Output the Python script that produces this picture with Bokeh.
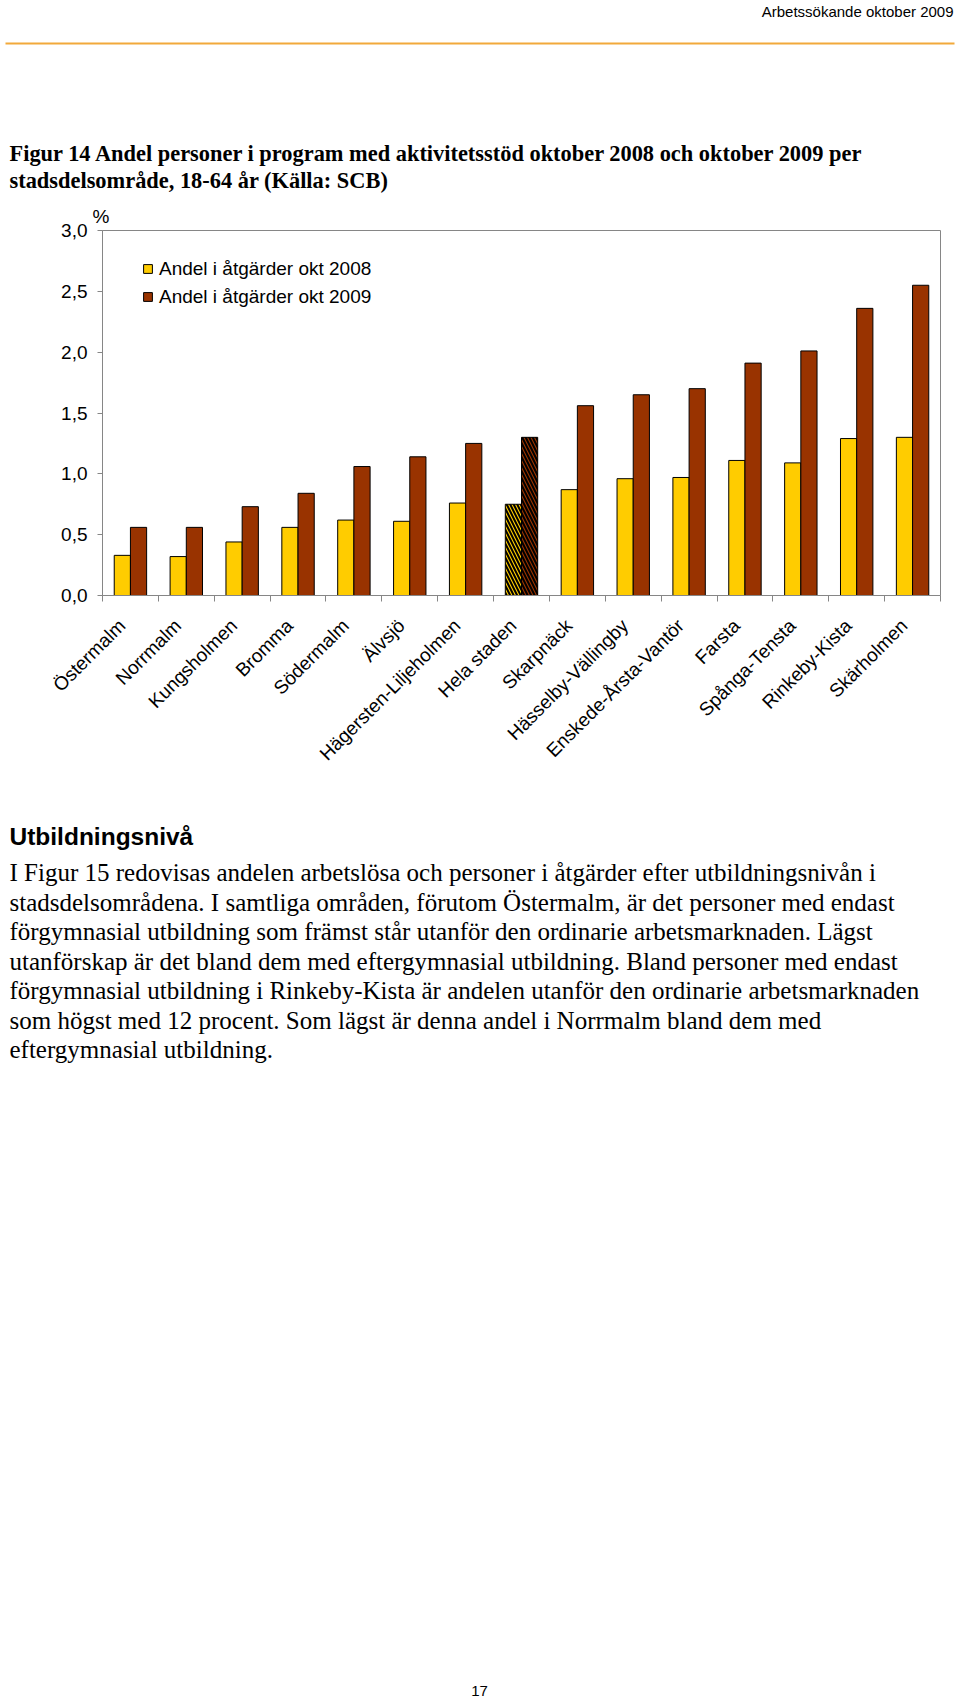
import math
from bokeh.plotting import figure
from bokeh.layouts import column
from bokeh.models import (ColumnDataSource, Legend, LegendItem, FixedTicker,
                          BoxAnnotation, Range1d, Title)
from bokeh.transform import dodge
from bokeh.core.properties import value
from bokeh.embed import file_html
from bokeh.resources import INLINE

# ---------------- data ----------------
categories = ["Östermalm", "Norrmalm", "Kungsholmen", "Bromma", "Södermalm", "Älvsjö",
              "Hägersten-Liljeholmen", "Hela staden", "Skarpnäck", "Hässelby-Vällingby",
              "Enskede-Årsta-Vantör", "Farsta", "Spånga-Tensta", "Rinkeby-Kista", "Skärholmen"]
andel_2008 = [0.33, 0.32, 0.44, 0.56, 0.62, 0.61, 0.76, 0.75, 0.87, 0.96, 0.97, 1.11, 1.09, 1.29, 1.30]
andel_2009 = [0.56, 0.56, 0.73, 0.84, 1.06, 1.14, 1.25, 1.30, 1.56, 1.65, 1.70, 1.91, 2.01, 2.36, 2.55]
series_names = ["Andel i åtgärder okt 2008", "Andel i åtgärder okt 2009"]
highlight = "Hela staden"
y_ticks = [0.0, 0.5, 1.0, 1.5, 2.0, 2.5, 3.0]
y_tick_labels = ["0,0", "0,5", "1,0", "1,5", "2,0", "2,5", "3,0"]
y_unit = "%"

header_text = "Arbetssökande oktober 2009"
title_lines = ["Figur 14 Andel personer i program med aktivitetsstöd oktober 2008 och oktober 2009 per",
               "stadsdelsområde, 18-64 år (Källa: SCB)"]
heading_text = "Utbildningsnivå"
body_lines = [
    "I Figur 15 redovisas andelen arbetslösa och personer i åtgärder efter utbildningsnivån i",
    "stadsdelsområdena. I samtliga områden, förutom Östermalm, är det personer med endast",
    "förgymnasial utbildning som främst står utanför den ordinarie arbetsmarknaden. Lägst",
    "utanförskap är det bland dem med eftergymnasial utbildning. Bland personer med endast",
    "förgymnasial utbildning i Rinkeby-Kista är andelen utanför den ordinarie arbetsmarknaden",
    "som högst med 12 procent. Som lägst är denna andel i Norrmalm bland dem med",
    "eftergymnasial utbildning.",
]
page_number = "17"

# ---------------- layout (page pixels) ----------------
W = 960
TOP_H = 196                 # header/title strip: page y 0..196
CHART_TOP, CHART_BOTTOM = 196, 800
FRAME_L, FRAME_R, FRAME_T, FRAME_B = 102, 940, 230, 595
BOTTOM_H = 898              # text strip: page y 800..1698
YELLOW, BROWN = "#FFCC00", "#993300"
GRAY = "#868686"
SANS, SERIF = "Liberation Sans", "Liberation Serif"
CHART_FONT = "19px"


def text_strip(height):
    f = figure(width=W, height=height, x_range=Range1d(0, W), y_range=Range1d(height, 0),
               output_backend="svg", toolbar_location=None, title=None,
               x_axis_type=None, y_axis_type=None, min_border=0, frame_align=False)
    f.outline_line_color = None
    f.grid.visible = False
    f.background_fill_color = "white"
    f.border_fill_color = "white"
    return f


def put(f, texts, xs, ys, size, font, style="normal", align="left", baseline="middle"):
    f.text(x=xs, y=ys, text=texts, text_font=value(font), text_font_size=value(size),
           text_font_style=style, text_align=align, text_baseline=baseline,
           text_color="black")


# ---- top strip ----
top = text_strip(TOP_H)
put(top, [header_text], [953], [11], "15px", SANS, align="right")
top.add_layout(BoxAnnotation(left=5, right=954, top=42, bottom=44,
                             fill_color="#F2A93B", fill_alpha=1, line_alpha=0))
put(top, title_lines, [9] * len(title_lines),
    [153 + 27.2 * i for i in range(len(title_lines))], "22.4px", SERIF, style="bold")

# ---- chart ----
n = len(categories)
ch = CHART_BOTTOM - CHART_TOP
p = figure(width=W, height=ch, x_range=Range1d(0, n), y_range=Range1d(0, 3),
           output_backend="svg", toolbar_location=None, title=None, frame_align=False,
           min_border_left=FRAME_L, min_border_right=W - FRAME_R,
           min_border_top=FRAME_T - CHART_TOP, min_border_bottom=CHART_BOTTOM - FRAME_B)
p.title = Title(text=y_unit, align="left", offset=-10, standoff=7,
                text_font=SANS, text_font_size=CHART_FONT, text_font_style="normal",
                text_color="black")
p.xgrid.visible = False
p.ygrid.visible = False
p.outline_line_color = GRAY
p.background_fill_color = "white"
p.border_fill_color = "white"

src = ColumnDataSource(dict(
    x=[i + 0.5 for i in range(n)],
    v08=andel_2008, v09=andel_2009,
    hatch=["\\" if c == highlight else " " for c in categories],
))
bw = 0.29
r08 = p.vbar(x=dodge("x", -bw / 2, range=p.x_range), top="v08", width=bw, bottom=0, source=src,
             fill_color=YELLOW, line_color="black", line_width=1,
             hatch_pattern="hatch", hatch_color="black", hatch_scale=7, hatch_weight=2)
r09 = p.vbar(x=dodge("x", bw / 2, range=p.x_range), top="v09", width=bw, bottom=0, source=src,
             fill_color=BROWN, line_color="black", line_width=1,
             hatch_pattern="hatch", hatch_color="black", hatch_scale=7, hatch_weight=2)

# category labels hang from an invisible tick slightly left of each centre (Excel-like anchoring)
label_shift = 0.15
label_pos = [i + 0.5 - label_shift for i in range(n)]
xa = p.xaxis[0]
xa.ticker = FixedTicker(ticks=label_pos, minor_ticks=list(range(n + 1)))
xa.major_label_overrides = {t: c for t, c in zip(label_pos, categories)}
xa.major_label_orientation = math.pi / 4
xa.major_tick_out = 0
xa.major_tick_in = 0
xa.minor_tick_out = 6
xa.minor_tick_in = 0
xa.minor_tick_line_color = GRAY
xa.axis_line_color = GRAY
xa.major_label_text_font = SANS
xa.major_label_text_font_size = CHART_FONT
xa.major_label_text_color = "black"
xa.major_label_standoff = 21

ya = p.yaxis[0]
ya.ticker = FixedTicker(ticks=y_ticks, minor_ticks=[])
ya.major_label_overrides = {t: l for t, l in zip(y_ticks, y_tick_labels)}
ya.major_tick_out = 5
ya.major_tick_in = 0
ya.major_tick_line_color = GRAY
ya.axis_line_color = GRAY
ya.major_label_text_font = SANS
ya.major_label_text_font_size = CHART_FONT
ya.major_label_text_color = "black"
ya.major_label_standoff = 10

legend = Legend(items=[LegendItem(label=series_names[0], renderers=[r08]),
                       LegendItem(label=series_names[1], renderers=[r09])],
                location=(142 - FRAME_L, FRAME_B - 307.5), orientation="vertical",
                glyph_width=11, glyph_height=11, label_standoff=6, label_height=21,
                spacing=6, padding=0, margin=0, border_line_alpha=0,
                background_fill_alpha=0, label_text_font=SANS,
                label_text_font_size=CHART_FONT, label_text_color="black")
p.add_layout(legend)

# ---- bottom strip ----
bot = text_strip(BOTTOM_H)
put(bot, [heading_text], [9], [836 - CHART_BOTTOM], "24.5px", SANS, style="bold")
put(bot, body_lines, [9] * len(body_lines),
    [872 - CHART_BOTTOM + 29.5 * i for i in range(len(body_lines))], "25px", SERIF)
put(bot, [page_number], [479], [1690 - CHART_BOTTOM], "15px", SANS, align="center")

layout = column(top, p, bot, spacing=0)
open("out.html", "w").write(file_html(layout, INLINE))
